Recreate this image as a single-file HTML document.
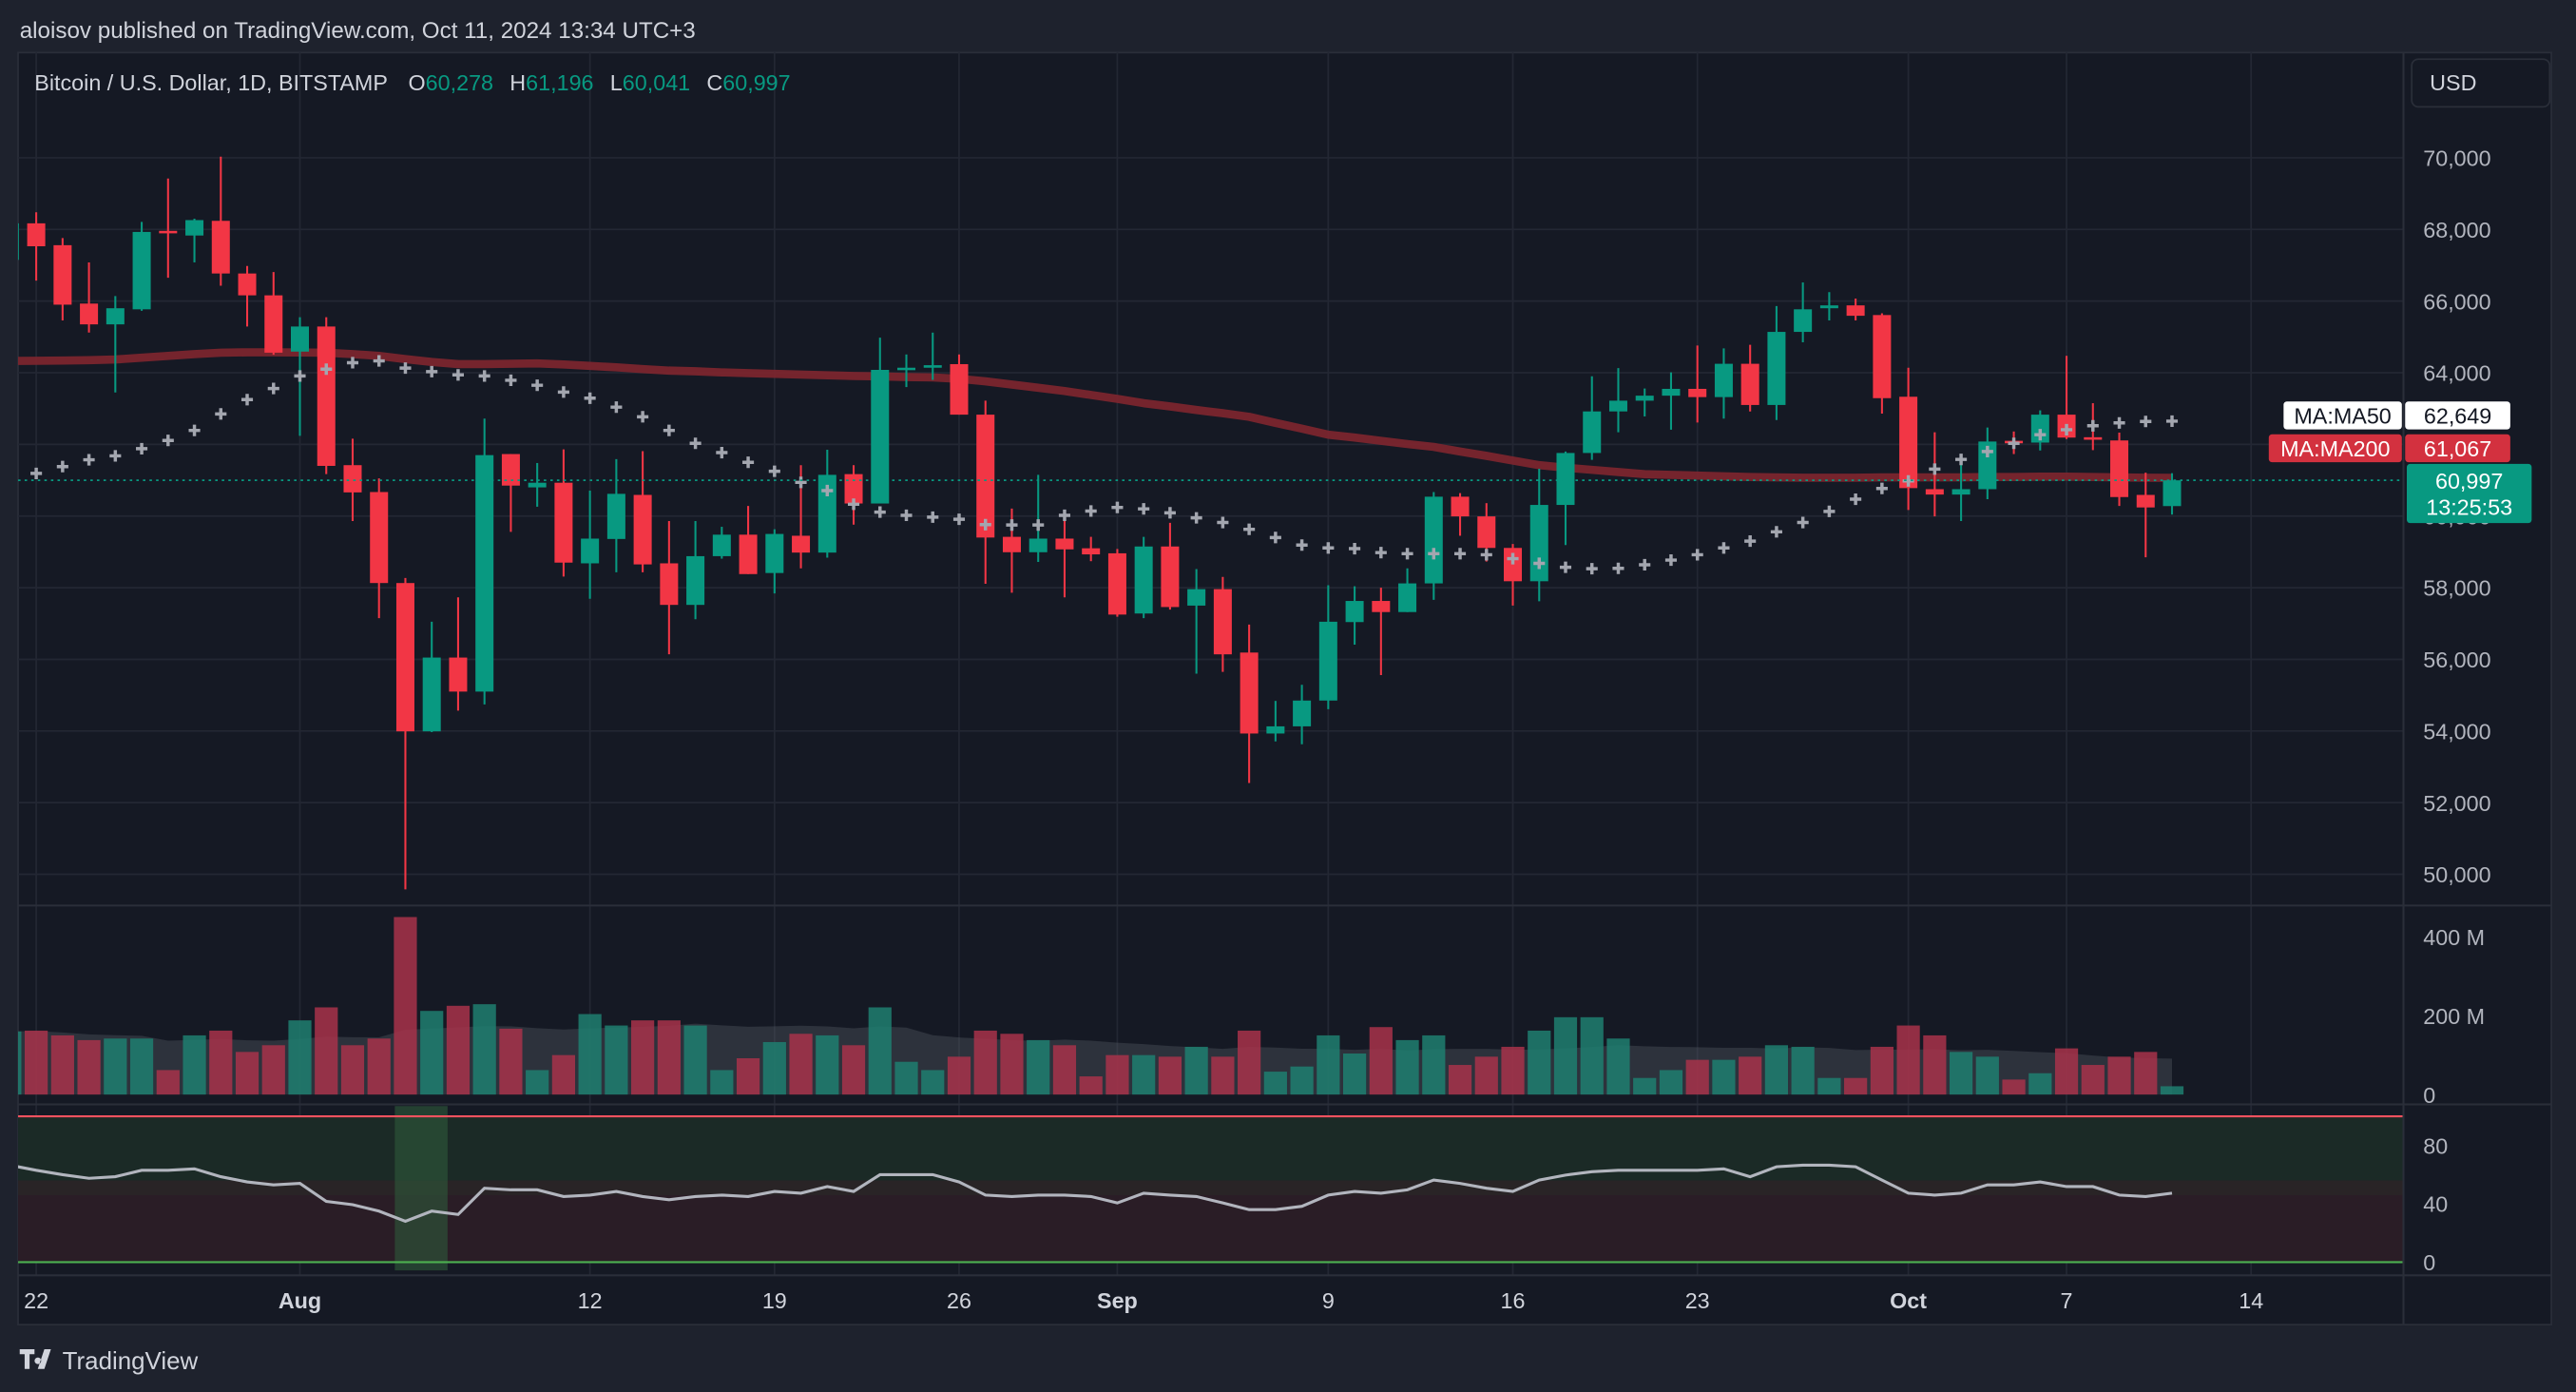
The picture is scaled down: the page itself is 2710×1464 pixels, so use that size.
<!DOCTYPE html>
<html><head><meta charset="utf-8"><style>
html,body{margin:0;padding:0;background:#1e222d;width:2710px;height:1464px;overflow:hidden}
svg{display:block}
text{font-family:"Liberation Sans",sans-serif}
</style></head><body>
<svg id="chart" xmlns="http://www.w3.org/2000/svg" width="2710" height="1464" viewBox="0 0 1568 847" preserveAspectRatio="none">
<rect x="0" y="0" width="1568" height="847" fill="#1e222d"/>
<rect x="11" y="32" width="1542" height="774" fill="#151924" stroke="#2a2e39"/>
<text x="12" y="23" font-size="14" fill="#d1d4dc">aloisov published on TradingView.com, Oct 11, 2024 13:34 UTC+3</text>
<g id="grid"></g>
<g id="rsi"></g>
<g id="vol"></g>
<g id="price"></g>
<g id="axes"></g>
<text x="21" y="55" font-size="13.5" fill="#d1d4dc">Bitcoin / U.S. Dollar, 1D, BITSTAMP <tspan dx="9">O</tspan><tspan fill="#089981">60,278</tspan><tspan dx="10">H</tspan><tspan fill="#089981">61,196</tspan><tspan dx="10">L</tspan><tspan fill="#089981">60,041</tspan><tspan dx="10">C</tspan><tspan fill="#089981">60,997</tspan></text>
<rect x="1468" y="36" width="84" height="29" rx="4" fill="#151924" stroke="#2a2e39"/>
<text x="1479" y="55" font-size="13.5" fill="#d1d4dc">USD</text>
<g>
<path d="M12 821h9v3h-3v9h-3v-9h-3z M23 826a2 2 0 1 0 0.1 0 M27 821h4l-4 12h-4z" fill="#d1d4dc"/>
<text x="38" y="833" font-size="15" fill="#d1d4dc">TradingView</text>
</g>
</svg>
<script>
const NS="http://www.w3.org/2000/svg";
// ---- data ----
const opens=[67150,68170,67560,65930,65350,65770,67960,67830,68240,66770,66160,64590,65290,61420,60670,58130,53990,56050,55100,61730,60800,60930,58680,59360,60590,58680,57520,58880,59480,58410,59450,58980,61170,60350,64080,64140,64240,62830,59420,58990,59370,59100,58960,57280,59150,57500,57960,56190,53930,54130,54850,57040,57630,57320,58120,60540,59990,59110,58180,60310,61760,62920,63220,63360,63550,63320,64250,63100,65140,65800,65880,65610,63330,60750,60600,60750,62100,62050,62830,62200,62110,60590,60278];
const highs=[68300,68480,67760,67080,66140,68210,69420,68300,70030,66980,66810,65550,65550,62160,61050,58270,57050,57730,62720,61730,61480,61860,60710,61590,61810,59860,59860,59700,60280,59630,61420,61850,61420,64980,64510,65120,64510,63220,60210,61150,59860,59420,59080,59420,59810,58520,58300,56970,54840,55290,58070,58040,58000,58540,60670,60640,60360,59220,61320,61800,63900,64130,63560,64010,64760,64680,64780,65860,66520,66250,66070,65660,64140,62340,61590,62470,62360,62950,64470,63150,62330,61210,61196];
const lows=[66900,66570,65460,65120,63450,65730,66650,67080,66430,65290,64500,62240,61170,59860,57150,49580,53970,54570,54740,59560,60260,58310,57690,58430,58430,56140,57120,58810,58380,57840,58540,58840,59760,60350,63600,63800,62830,58110,57860,58720,57730,58740,57190,57150,57390,55600,55650,52550,53710,53630,54610,56410,55560,57320,57660,59450,58730,57500,57620,59190,61570,62340,62780,62410,62610,62720,62920,62680,64850,65460,65460,62860,60170,59990,59860,60470,61730,61830,62150,61840,60280,58850,60041];
const closes=[68170,67530,65900,65350,65800,67930,67900,68260,66770,66160,64560,65290,61400,60660,58130,53990,56050,55100,61700,60850,60930,58700,59370,60620,58650,57520,58880,59480,58380,59500,58980,61150,60350,64080,64140,64210,62830,59400,58990,59370,59070,58930,57250,59150,57460,57960,56140,53930,54130,54850,57050,57630,57320,58120,60540,59990,59110,58180,60310,61760,62920,63220,63360,63550,63320,64250,63100,65140,65770,65880,65590,63290,60780,60600,60750,62080,62050,62830,62190,62130,60530,60240,60997];
const ma50=[null,61190,61380,61570,61680,61880,62110,62390,62850,63250,63560,63910,64100,64280,64330,64130,64030,63940,63910,63790,63650,63460,63290,63040,62770,62390,62030,61770,61500,61250,60940,60710,60330,60110,60020,59970,59910,59760,59750,59750,60020,60140,60240,60200,60090,59950,59820,59630,59400,59190,59110,59090,58980,58950,58950,58950,58920,58810,58680,58570,58530,58540,58640,58770,58920,59110,59300,59560,59820,60130,60470,60770,60980,61310,61580,61800,62030,62270,62410,62520,62600,62640,62649];
const ma200=[64330,64335,64340,64350,64370,64420,64470,64520,64560,64570,64570,64565,64560,64520,64470,64380,64300,64240,64240,64250,64260,64230,64190,64150,64100,64060,64040,64010,63990,63970,63950,63930,63910,63900,63880,63870,63830,63760,63670,63580,63490,63380,63270,63150,63060,62960,62870,62770,62600,62440,62270,62190,62100,62010,61930,61800,61680,61550,61420,61350,61290,61230,61170,61150,61130,61110,61090,61080,61070,61070,61070,61080,61080,61080,61080,61090,61090,61100,61100,61090,61080,61070,61067];
const volumes=[160,162,150,138,142,142,62,150,162,108,125,188,221,125,142,450,212,225,229,167,62,100,204,175,188,188,175,62,92,133,154,150,125,221,83,62,96,162,154,138,125,46,100,100,96,121,96,162,58,71,150,104,171,138,150,75,96,121,162,196,196,142,42,62,88,88,96,125,121,42,42,121,175,150,108,96,38,54,117,75,96,108,21];
const rsi=[66.5,63,60,57.5,58.6,63,63,64,58.6,55,53,54,41.7,39.4,35,28,35,32.7,50.7,49.6,49.6,45,46,48.5,45,42.8,45,46,45,48.5,47.3,51.8,48.5,60,60,60,55,46,45,46,46,45,40.6,47.3,46,45,40.6,36,36,38.3,46,48.5,47.3,49.6,56.3,54,50.7,48.5,56.3,59.7,62,63,63,63,63,64,58.6,65.4,66.5,66.5,65.4,56.3,47.3,46,47.3,53,53,55,51.8,51.8,46,45,47.3];
const priceTicks=[50000,52000,54000,56000,58000,60000,62000,64000,66000,68000,70000];
const volTicks=[0,200,400];
const rsiTicks=[0,40,80];
const xTickDays=[1,11,22,29,36,42,50,57,64,72,78,85];
const xTickLabels=["22","Aug","12","19","26","Sep","9","16","23","Oct","7","14"];
// ---- scales ----
const X0=6, DX=16.05;
const xs=i=>X0+i*DX;
const yP=p=>96+(70000-p)*0.0218;
const yV=v=>666-v*0.24;
const yR=r=>768-r*0.8875;
const fmt=n=>n.toLocaleString("en-US");
function el(tag,attrs,parent){const e=document.createElementNS(NS,tag);for(const k in attrs)e.setAttribute(k,attrs[k]);parent.appendChild(e);return e;}
const grid=document.getElementById('grid'),price=document.getElementById('price'),vol=document.getElementById('vol'),rs=document.getElementById('rsi'),axes=document.getElementById('axes');
const defs=el('defs',{},document.getElementById('chart'));
const cp=el('clipPath',{id:'pc'},defs);el('rect',{x:11,y:32,width:1452,height:519},cp);
const cv=el('clipPath',{id:'vc'},defs);el('rect',{x:11,y:551,width:1452,height:225},cv);
price.setAttribute('clip-path','url(#pc)');
vol.setAttribute('clip-path','url(#vc)');
rs.setAttribute('clip-path','url(#vc)');
// grid
priceTicks.forEach(p=>{const l=el('line',{x1:11,x2:1463,y1:yP(p),y2:yP(p),stroke:'#232733','stroke-width':1},grid);


const t=el('text',{x:1475,y:yP(p)+5,'font-size':13.5,fill:'#b2b5be'},axes);t.textContent=fmt(p);

});
xTickDays.forEach((d,i)=>{const x=xs(d);const l=el('line',{x1:x,x2:x,y1:32,y2:776,stroke:'#232733','stroke-width':1},grid);


const lab=xTickLabels[i];const bold=isNaN(+lab);
const t=el('text',{x:x,y:796,'font-size':13.5,fill:'#d1d4dc','text-anchor':'middle','font-weight':bold?'bold':'normal'},axes);t.textContent=lab;

});
[[11,551,1553,551],[11,672,1553,672],[11,776,1553,776],[1463,32,1463,806]].forEach(a=>{const l=el('line',{x1:a[0],y1:a[1],x2:a[2],y2:a[3],stroke:'#2a2e39','stroke-width':1.2},axes);

});
// RSI
let r1=el('rect',{x:11,y:yR(100),width:1452,height:yR(56)-yR(100),fill:'#1b2a26'},rs);

let r2=el('rect',{x:11,y:yR(56),width:1452,height:yR(0)-yR(56),fill:'#2a1d26'},rs);

let r3=el('rect',{x:11,y:yR(56),width:1452,height:yR(46)-yR(56),fill:'#2a2a26',opacity:0.6},rs);

let hl=el('rect',{x:xs(14.6),y:673,width:DX*2,height:100,fill:'#2f5a3a',opacity:0.6},rs);

let tl=el('line',{x1:11,x2:1463,y1:yR(100),y2:yR(100),stroke:'#f7525f','stroke-width':1.2},rs);

let bl=el('line',{x1:11,x2:1463,y1:yR(0),y2:yR(0),stroke:'#4caf50','stroke-width':1.2},rs);

let rp=el('polyline',{points:rsi.map((r,i)=>xs(i)+','+yR(r)).join(' '),fill:'none',stroke:'#b2b5be','stroke-width':1.8},rs);

rsiTicks.forEach(r=>{const t=el('text',{x:1475,y:yR(r)+5,'font-size':13.5,fill:'#b2b5be'},axes);t.textContent=r;

});
// volume
const vma=volumes.map((v,i)=>{const s=volumes.slice(Math.max(0,i-19),i+1);return s.reduce((a,b)=>a+b,0)/s.length;});
let va=el('polygon',{points:xs(0)+','+yV(0)+' '+vma.map((v,i)=>xs(i)+','+yV(v)).join(' ')+' '+xs(82)+','+yV(0),fill:'#5d606b',opacity:0.35},vol);

volumes.forEach((v,i)=>{const up=closes[i]>=opens[i];const b=el('rect',{x:xs(i)-7,y:yV(v),width:14,height:v*0.24,fill:up?'#1e7f70':'#a8324a',opacity:0.85},vol);

});
volTicks.forEach(v=>{const t=el('text',{x:1475,y:yV(v)+5,'font-size':13.5,fill:'#b2b5be'},axes);t.textContent=v===0?'0':v+' M';

});
// MA200
let m2=el('polyline',{points:ma200.map((m,i)=>xs(i)+','+yP(m)).join(' '),fill:'none',stroke:'#80262f','stroke-width':5,'stroke-linejoin':'round',opacity:0.9},price);

// candles
opens.forEach((o,i)=>{const c=closes[i];const up=c>=o;const col=up?'#089981':'#f23645';const x=xs(i);
const g=el('g',{},price);


el('line',{x1:x,x2:x,y1:yP(highs[i]),y2:yP(lows[i]),stroke:col,'stroke-width':1.2},g);
const t=yP(Math.max(o,c)),h=Math.max(1.5,Math.abs(yP(o)-yP(c)));
el('rect',{x:x-5.5,y:t,width:11,height:h,fill:col},g);});
// MA50 crosses
ma50.forEach((m,i)=>{if(m==null)return;const x=xs(i),y=yP(m);
const p=el('path',{d:`M${x-3.5},${y}H${x+3.5}M${x},${y-3.5}V${y+3.5}`,stroke:'#a3a6af','stroke-width':2},price);

});
// current price line
const last=closes[closes.length-1];
let cl=el('line',{x1:11,x2:1463,y1:yP(last),y2:yP(last),stroke:'#089981','stroke-width':1,'stroke-dasharray':'1.5 2.5'},price);

function tag(x,y,w,h,bg,fg,txt,name){const g=el('g',{},axes);


el('rect',{x:x,y:y,width:w,height:h,fill:bg,rx:2},g);
const t=el('text',{x:x+w/2,y:y+h/2+5,'font-size':13.5,fill:fg,'text-anchor':'middle'},g);t.textContent=txt;}
const m50=ma50[ma50.length-1],m200=ma200[ma200.length-1];
const cy=yP(last);
tag(1390,cy-48,72,17,'#ffffff','#131722','MA:MA50','ma50-name-label');
tag(1464,cy-48,64,17,'#ffffff','#131722',fmt(m50),'ma50-value-label');
tag(1381,cy-28,81,17,'#d3313f','#ffffff','MA:MA200','ma200-name-label');
tag(1464,cy-28,64,17,'#d3313f','#ffffff',fmt(m200),'ma200-value-label');
const cg=el('g',{},axes);


el('rect',{x:1465,y:cy-10,width:76,height:36,fill:'#089981',rx:2},cg);
let ct=el('text',{x:1503,y:cy+5,'font-size':13.5,fill:'#fff','text-anchor':'middle'},cg);ct.textContent=fmt(last);
let ct2=el('text',{x:1503,y:cy+21,'font-size':13.5,fill:'#fff','text-anchor':'middle'},cg);ct2.textContent='13:25:53';
</script>
</body></html>
